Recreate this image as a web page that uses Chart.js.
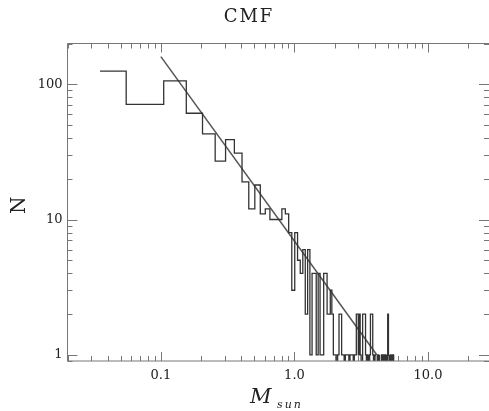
<!DOCTYPE html>
<html>
<head>
<meta charset="utf-8">
<script src="https://cdn.jsdelivr.net/npm/chart.js@4.4.0/dist/chart.umd.min.js"></script>
<style>
  body { margin: 0; background: #fff; }
</style>
</head>
<body>
<canvas id="cmfChart" width="489" height="411"></canvas>
<script>
// Histograma: bins de 0.05 Msun empezando en 0.005
const binStart = 0.005;
const binWidth = 0.05;
const massMin = 0.035; // el primer bin se dibuja desde la masa minima
const counts = [
  125, 71, 106, 61, 43, 27, 39, 31, 19, 12,
  18, 11, 12, 10, 10, 10, 12, 11, 8, 3,
  8, 5, 4, 6, 2, 6, 1, 4, 4, 1,
  4, 1, 1, 4, 4, 2, 2, 3, 2, 1,
  1, 0, 1, 2, 2, 1, 1, 0, 1, 1,
  1, 0, 1, 1, 1, 0, 1, 1, 2, 2,
  1, 2, 1, 0, 1, 2, 2, 2, 1, 0,
  1, 1, 0, 1, 2, 2, 2, 1, 0, 1,
  1, 0, 0, 1, 1, 0, 1, 0, 0, 1,
  1, 0, 0, 1, 0, 0, 1, 1, 0, 0,
  2, 0, 1, 0, 0, 1, 1, 0, 0, 1, 0
];

// Ajuste de ley de potencia (recta en log-log)
const fitMass = [0.1, 4.13];
const fitN = [160, 1];

// Etiquetas de los ejes
const xTickLabels = [0.1, 1, 10];
const yTickLabels = [1, 10, 100];

const zeroN = 0.5; // bins vacios: la linea baja hasta el eje
const serif = '"DejaVu Serif", "Liberation Serif", serif';

// Construir los escalones del histograma
const histPoints = [];
counts.forEach((c, k) => {
  const lo = Math.max(binStart + k * binWidth, massMin);
  const hi = binStart + (k + 1) * binWidth;
  const y = c > 0 ? c : zeroN;
  histPoints.push({ x: lo, y: y }, { x: hi, y: y });
});
const fitPoints = fitMass.map((m, i) => ({ x: m, y: fitN[i] }));

// Marco, ticks hacia adentro y titulos
const framePlugin = {
  id: 'frame',
  afterDraw(chart) {
    const { ctx, chartArea: a, scales } = chart;
    const xs = scales.x, ys = scales.y;
    ctx.save();
    ctx.strokeStyle = '#777';
    ctx.lineWidth = 1;
    ctx.beginPath();
    ctx.moveTo(a.right + 1, a.top); ctx.lineTo(a.left, a.top);
    ctx.lineTo(a.left, a.bottom); ctx.lineTo(a.right + 1, a.bottom);
    ctx.stroke();

    ctx.beginPath();
    for (let e = -2; e <= 1; e++) {
      for (let d = 1; d <= 9; d++) {
        const v = d * Math.pow(10, e);
        if (v < xs.min || v > xs.max) continue;
        const px = Math.round(xs.getPixelForValue(v)) + 0.5;
        const len = d === 1 ? 9 : 5;
        ctx.moveTo(px, a.bottom); ctx.lineTo(px, a.bottom - len);
        ctx.moveTo(px, a.top); ctx.lineTo(px, a.top + len);
      }
    }
    for (let e = -1; e <= 2; e++) {
      for (let d = 1; d <= 9; d++) {
        const v = d * Math.pow(10, e);
        if (v < ys.min || v > ys.max) continue;
        const py = Math.round(ys.getPixelForValue(v)) + 0.5;
        const len = d === 1 ? 10 : 5;
        ctx.moveTo(a.left, py); ctx.lineTo(a.left + len, py);
        ctx.moveTo(a.right, py); ctx.lineTo(a.right - len, py);
      }
    }
    ctx.stroke();

    ctx.fillStyle = '#222';

    // Titulo del grafico
    ctx.save();
    ctx.font = '18px ' + serif;
    ctx.letterSpacing = '2px';
    ctx.textAlign = 'center';
    ctx.textBaseline = 'middle';
    ctx.fillText('CMF', 249, 17);
    ctx.restore();

    // Titulo eje Y
    ctx.save();
    ctx.translate(20, (a.top + a.bottom) / 2 + 3);
    ctx.rotate(-Math.PI / 2);
    ctx.font = '20px ' + serif;
    ctx.textAlign = 'center';
    ctx.textBaseline = 'middle';
    ctx.fillText('N', 0, 0);
    ctx.restore();

    // Titulo eje X: M con subindice "sun"
    ctx.textBaseline = 'alphabetic';
    ctx.textAlign = 'left';
    ctx.font = 'italic 21px ' + serif;
    ctx.fillText('M', 250, 403);
    ctx.font = 'italic 11px ' + serif;
    ctx.letterSpacing = '2px';
    ctx.fillText('sun', 277, 408);
    ctx.restore();
  }
};

const ctx = document.getElementById('cmfChart').getContext('2d');
const cmfChart = new Chart(ctx, {
  type: 'line',
  data: {
    datasets: [
      {
        data: histPoints,
        borderColor: '#333',
        borderWidth: 1.3,
        pointRadius: 0,
        tension: 0,
        fill: false
      },
      {
        data: fitPoints,
        borderColor: '#555',
        borderWidth: 1.5,
        pointRadius: 0,
        fill: false
      }
    ]
  },
  options: {
    responsive: false,
    animation: false,
    layout: { padding: { top: 43.5, left: 0, right: 0, bottom: 0 } },
    plugins: {
      legend: { display: false },
      tooltip: { enabled: false },
      title: { display: false }
    },
    scales: {
      x: {
        type: 'logarithmic',
        min: 0.02,
        max: 28.6,
        bounds: 'data',
        grid: { display: false, drawTicks: false },
        border: { display: false },
        ticks: {
          color: '#222',
          font: { family: serif, size: 13 },
          padding: 7,
          maxRotation: 0,
          autoSkip: false,
          callback: v => Number(v).toFixed(1)
        },
        afterBuildTicks: s => { s.ticks = xTickLabels.map(v => ({ value: v })); },
        afterFit: s => { s.height = 50; }
      },
      y: {
        type: 'logarithmic',
        min: 0.9,
        max: 200,
        bounds: 'data',
        grid: { display: false, drawTicks: false },
        border: { display: false },
        ticks: {
          color: '#222',
          font: { family: serif, size: 13 },
          padding: 5,
          autoSkip: false,
          callback: v => String(v)
        },
        afterBuildTicks: s => { s.ticks = yTickLabels.map(v => ({ value: v })); },
        afterFit: s => { s.width = 67.5; }
      }
    }
  },
  plugins: [framePlugin]
});
</script>
</body>
</html>
